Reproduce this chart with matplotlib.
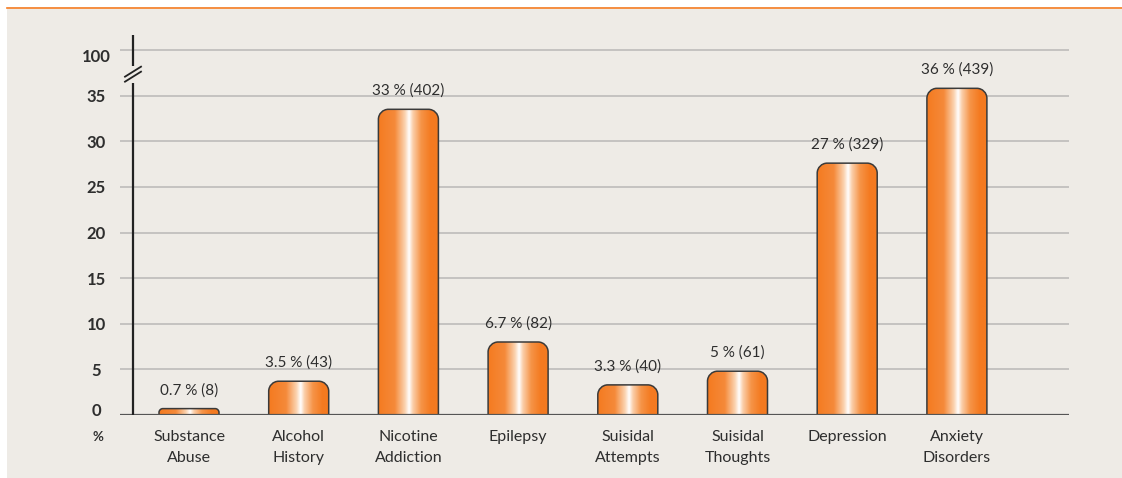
#!/usr/bin/env python3

import matplotlib
matplotlib.use('Agg')
import matplotlib.pyplot as plt
import matplotlib.transforms as mtransforms
import numpy as np
from matplotlib.colors import LinearSegmentedColormap
from matplotlib.lines import Line2D
from matplotlib.patches import PathPatch, Rectangle
from matplotlib.path import Path

categories = ['Substance\nAbuse', 'Alcohol\nHistory', 'Nicotine\nAddiction',
              'Epilepsy', 'Suisidal\nAttempts', 'Suisidal\nThoughts',
              'Depression', 'Anxiety\nDisorders']
# bar heights as drawn in the picture (percent)
heights = [0.7, 3.7, 33.5, 8.0, 3.3, 4.8, 27.6, 35.8]
bar_labels = ['0.7 % (8)', '3.5 % (43)', '33 % (402)', '6.7 % (82)',
              '3.3 % (40)', '5 % (61)', '27 % (329)', '36 % (439)']
ytick_pos = [0, 5, 10, 15, 20, 25, 30, 35, 40]
ytick_labels = ['0', '5', '10', '15', '20', '25', '30', '35', '100']

ORANGE = '#F47A20'
BG = '#EEEBE6'
TEXT = '#2e2e2e'

W, H = 1122, 478
plt.rcParams['font.family'] = ['Lato', 'DejaVu Sans']

fig = plt.figure(figsize=(W / 100, H / 100), dpi=100)
fig.patch.set_facecolor('white')
fig.add_artist(Rectangle((7 / W, 0), 1 - 7 / W, (H - 9) / H,
                         transform=fig.transFigure, facecolor=BG,
                         edgecolor='none', zorder=0))
fig.add_artist(Line2D([7 / W, 1], [(H - 8) / H] * 2, transform=fig.transFigure,
                      color=ORANGE, lw=1.2, zorder=1))

# axes box in pixels
left, right, bottom, top = 120, 1069, 415, 35
ax = fig.add_axes([left / W, (H - bottom) / H, (right - left) / W,
                   (bottom - top) / H])
ax.set_facecolor('none')
x0_px, step_px = 189, 109.7
ax.set_xlim((left - x0_px) / step_px, (right - x0_px) / step_px)
ax.set_ylim(0, 40 * (bottom - top) / (bottom - 50))
px_x = 1 / step_px
px_y = ax.get_ylim()[1] / (bottom - top)

for s in ax.spines.values():
    s.set_visible(False)

for y in ytick_pos[1:]:
    ax.axhline(y, color='#bdbcba', lw=1.2, zorder=1)
ax.axhline(0, color='#555555', lw=1.6, zorder=4)

ax.set_xticks(range(len(categories)))
ax.set_xticklabels(categories, fontsize=11.5, color=TEXT, linespacing=1.65)
ax.set_yticks(ytick_pos)
ax.set_yticklabels(ytick_labels, fontsize=12, fontweight='bold', color=TEXT,
                   ha='center')
ax.tick_params(axis='both', length=0)
ax.tick_params(axis='y', pad=17)
ax.tick_params(axis='x', pad=11)
# the original places the "0" label a bit high and "100" a bit low
ylabels = ax.get_yticklabels()
ylabels[0].set_transform(ylabels[0].get_transform() +
                         mtransforms.Affine2D().translate(0, 6))
ylabels[-1].set_transform(ylabels[-1].get_transform() +
                          mtransforms.Affine2D().translate(0, -5))
ax.text(-0.83, -2.45, '%', ha='center', va='center', fontsize=9.5,
        fontweight='bold', color=TEXT, clip_on=False)

# y axis with break marks
ax_x = (133 - x0_px) / step_px
ymax = ax.get_ylim()[1]
ax.plot([ax_x, ax_x], [0, 36.4], color='#222222', lw=1.6, zorder=5,
        solid_capstyle='butt')
ax.plot([ax_x, ax_x], [38.3, ymax], color='#222222', lw=1.6, zorder=5,
        solid_capstyle='butt', clip_on=False)
for off in (-2.5, 2.5):
    yc = 37.35 + off * px_y
    ax.plot([ax_x - 8 * px_x, ax_x + 8 * px_x],
            [yc - 5 * px_y, yc + 5 * px_y], color='#222222', lw=1.3,
            zorder=6, clip_on=False)

# gradient for the bars
cmap = LinearSegmentedColormap.from_list('bar', [
    (0.0, ORANGE), (0.28, '#F58A3A'), (0.45, '#FBD3B0'), (0.52, '#FFFFFF'),
    (0.58, '#FBD0AC'), (0.72, '#F69448'), (0.88, ORANGE), (1.0, ORANGE)])
grad = np.linspace(0, 1, 256).reshape(1, -1)

bw = 60 / step_px
for i, h in enumerate(heights):
    xl, xr = i - bw / 2, i + bw / 2
    r_px = min(10, h / px_y * 0.6)
    rx, ry = r_px * px_x, r_px * px_y
    k = 0.55
    verts = [(xl, 0), (xl, h - ry),
             (xl, h - ry + k * ry), (xl + rx - k * rx, h), (xl + rx, h),
             (xr - rx, h),
             (xr - rx + k * rx, h), (xr, h - ry + k * ry), (xr, h - ry),
             (xr, 0), (xl, 0)]
    codes = [Path.MOVETO, Path.LINETO,
             Path.CURVE4, Path.CURVE4, Path.CURVE4,
             Path.LINETO,
             Path.CURVE4, Path.CURVE4, Path.CURVE4,
             Path.LINETO, Path.CLOSEPOLY]
    path = Path(verts, codes)
    img = ax.imshow(grad, cmap=cmap, aspect='auto', extent=[xl, xr, 0, h],
                    zorder=2, interpolation='bilinear')
    patch = PathPatch(path, facecolor='none', edgecolor='#3a3a3a', lw=1.1,
                      zorder=3)
    ax.add_patch(patch)
    img.set_clip_path(patch)
    ax.annotate(bar_labels[i], (i, h), xytext=(0, 8), textcoords='offset points',
                ha='center', va='bottom', fontsize=11, color=TEXT)

ax.set_xlim((left - x0_px) / step_px, (right - x0_px) / step_px)
ax.set_ylim(0, ymax)

fig.savefig('out.png', dpi=100, facecolor=fig.get_facecolor())
